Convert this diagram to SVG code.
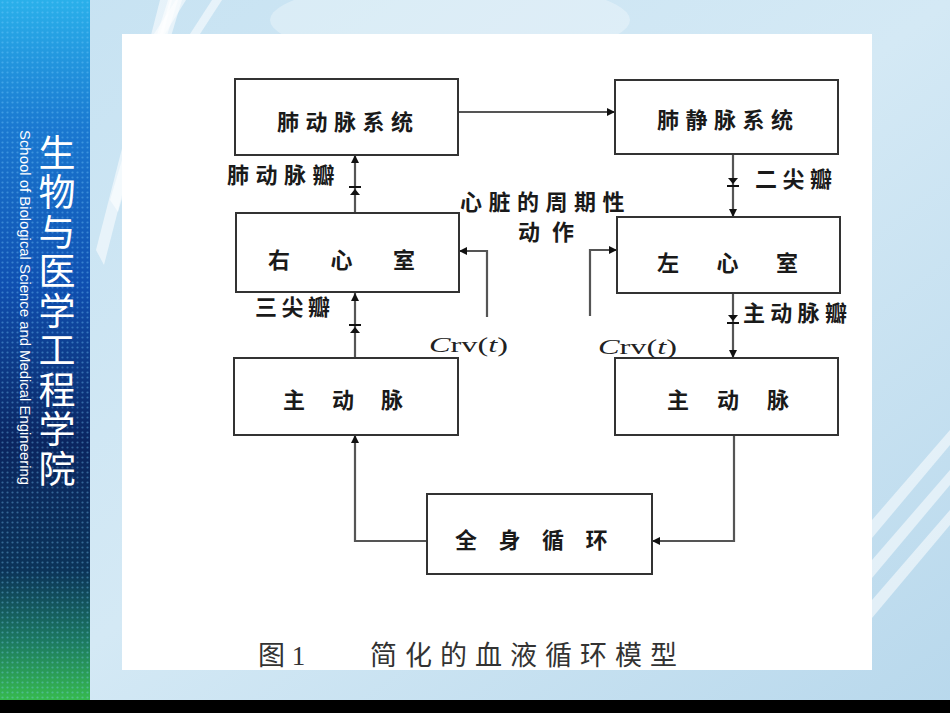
<svg xmlns="http://www.w3.org/2000/svg" width="950" height="713" viewBox="0 0 950 713">
  <defs>
    <linearGradient id="bg" x1="0" y1="0" x2="1" y2="1">
      <stop offset="0" stop-color="#c6e2f2"/>
      <stop offset="0.5" stop-color="#d4e9f5"/>
      <stop offset="1" stop-color="#b8d8ec"/>
    </linearGradient>
    <linearGradient id="strip" x1="0" y1="0" x2="0" y2="1">
      <stop offset="0" stop-color="#2ab0ea"/>
      <stop offset="0.18" stop-color="#1a78d0"/>
      <stop offset="0.4" stop-color="#0f4fb0"/>
      <stop offset="0.62" stop-color="#0a2560"/>
      <stop offset="0.8" stop-color="#0b3358"/>
      <stop offset="0.9" stop-color="#1c7a60"/>
      <stop offset="1" stop-color="#3cc84a"/>
    </linearGradient>
    <pattern id="dots" width="5" height="5" patternUnits="userSpaceOnUse">
      <circle cx="2.5" cy="2.5" r="1.1" fill="#7fd0ff" fill-opacity="0.35"/>
    </pattern>
    <marker id="ah" viewBox="0 0 10 10" refX="10" refY="5" markerWidth="8" markerHeight="8" markerUnits="userSpaceOnUse" orient="auto">
      <path d="M0,0 L10,5 L0,10 z" fill="#111"/>
    </marker>
    <g id="valveUp">
      <path d="M-6,-3 H6" stroke="#111" stroke-width="2"/>
      <polygon points="0,-1 -5,5 5,5" fill="#111"/>
    </g>
    <g id="valveDown">
      <path d="M-6,3 H6" stroke="#111" stroke-width="2"/>
      <polygon points="0,1 -5,-5 5,-5" fill="#111"/>
    </g>
  </defs>
  <style>
    .box { fill: #ffffff; stroke: #333333; stroke-width: 2; }
    .conn { fill: none; stroke: #555555; stroke-width: 2.2; }
    .t { font-family: "Noto Sans CJK SC", "Noto Sans", sans-serif; font-size: 22px; font-weight: bold; fill: #1a1a1a; }
    .crv { font-family: "Liberation Serif", serif; font-size: 21px; fill: #222222; }
    .cap { font-family: "Liberation Serif", "Noto Sans CJK SC", serif; font-size: 27px; fill: #333333; }
  </style>

  <!-- slide background -->
  <rect x="0" y="0" width="950" height="713" fill="url(#bg)"/>
  <g fill="#ffffff" fill-opacity="0.55">
    <polygon points="96,250 160,0 172,0 104,265"/>
    <polygon points="110,200 170,0 182,0 118,212"/>
    <polygon points="130,120 168,0 178,0 138,130"/>
    <polygon points="150,40 176,0 186,0 158,45"/>
    <polygon points="190,34 212,0 222,0 200,34"/>
    <polygon points="872,520 950,430 950,445 872,538"/>
    <polygon points="872,560 950,470 950,485 872,578"/>
    <polygon points="872,600 950,510 950,525 872,618"/>
  </g>
  <ellipse cx="450" cy="20" rx="180" ry="40" fill="#ffffff" fill-opacity="0.3"/>
  <rect x="0" y="0" width="90" height="713" fill="url(#strip)"/>
  <rect x="0" y="0" width="90" height="713" fill="url(#dots)"/>
  <rect x="0" y="700" width="950" height="13" fill="#000000"/>

  <text x="0" y="0" transform="translate(20,130) rotate(90)" font-family="Liberation Sans, sans-serif" font-size="14" fill="#ffffff" textLength="355" lengthAdjust="spacingAndGlyphs">School of Biological Science and Medical Engineering</text>
  <text x="57" y="134" writing-mode="vertical-rl" font-family="Noto Sans CJK SC, sans-serif" font-size="37" letter-spacing="2.5" fill="#ffffff">生物与医学工程学院</text>

  <!-- white panel -->
  <rect x="122" y="34" width="750" height="636" fill="#ffffff"/>

  <!-- connectors -->
  <g id="connectors">
    <path class="conn" d="M458,112 H615" marker-end="url(#ah)"/>
    <path class="conn" d="M733,154 V217" marker-end="url(#ah)"/>
    <path class="conn" d="M733,293 V358" marker-end="url(#ah)"/>
    <path class="conn" d="M734,435 V541 H652" marker-end="url(#ah)"/>
    <path class="conn" d="M427,541 H355 V435" marker-end="url(#ah)"/>
    <path class="conn" d="M355,358 V293" marker-end="url(#ah)"/>
    <path class="conn" d="M355,213 V155" marker-end="url(#ah)"/>
    <path class="conn" d="M487,317 V251 H459" marker-end="url(#ah)"/>
    <path class="conn" d="M590,316 V250 H617" marker-end="url(#ah)"/>
    <use href="#valveUp" x="355" y="190"/>
    <use href="#valveUp" x="355" y="328"/>
    <use href="#valveDown" x="733" y="183"/>
    <use href="#valveDown" x="733" y="320"/>
  </g>

  <g id="pulmonary-artery">
    <rect class="box" x="235" y="79" width="223" height="76"/>
    <text class="t" x="277" y="130" letter-spacing="6.5">肺动脉系统</text>
  </g>
  <g id="pulmonary-vein">
    <rect class="box" x="615" y="80" width="223" height="74"/>
    <text class="t" x="657" y="128" letter-spacing="6.5">肺静脉系统</text>
  </g>
  <g id="right-ventricle">
    <rect class="box" x="236" y="213" width="223" height="79"/>
    <text class="t" x="268" y="268" letter-spacing="40.5">右心室</text>
  </g>
  <g id="left-ventricle">
    <rect class="box" x="617" y="217" width="223" height="76"/>
    <text class="t" x="657" y="271" letter-spacing="37.5">左心室</text>
  </g>
  <g id="aorta-left">
    <rect class="box" x="234" y="358" width="224" height="77"/>
    <text class="t" x="283" y="408" letter-spacing="27">主动脉</text>
  </g>
  <g id="aorta-right">
    <rect class="box" x="615" y="358" width="223" height="77"/>
    <text class="t" x="667" y="408" letter-spacing="28">主动脉</text>
  </g>
  <g id="systemic">
    <rect class="box" x="427" y="494" width="225" height="80"/>
    <text class="t" x="455" y="548" letter-spacing="21.5">全身循环</text>
  </g>

  <g id="labels">
    <text class="t" x="227" y="183" letter-spacing="6.5">肺动脉瓣</text>
    <text class="t" x="460" y="210" font-size="20" letter-spacing="6.5">心脏的周期性</text>
    <text class="t" x="518" y="240" font-size="20" letter-spacing="12">动作</text>
    <text class="t" x="755" y="187" letter-spacing="5.5">二尖瓣</text>
    <text class="t" x="255" y="315" letter-spacing="4.5">三尖瓣</text>
    <text class="t" x="743" y="321" letter-spacing="5.3">主动脉瓣</text>
    <text class="crv" x="429" y="352" textLength="79" lengthAdjust="spacingAndGlyphs"><tspan font-style="italic">C</tspan>rv(<tspan font-style="italic">t</tspan>)</text>
    <text class="crv" x="598" y="354" textLength="79" lengthAdjust="spacingAndGlyphs"><tspan font-style="italic">C</tspan>rv(<tspan font-style="italic">t</tspan>)</text>
  </g>

  <g id="caption">
    <text class="cap" x="258" y="665">图 1</text>
    <text class="cap" x="370" y="665" letter-spacing="8">简化的血液循环模型</text>
  </g>
</svg>
